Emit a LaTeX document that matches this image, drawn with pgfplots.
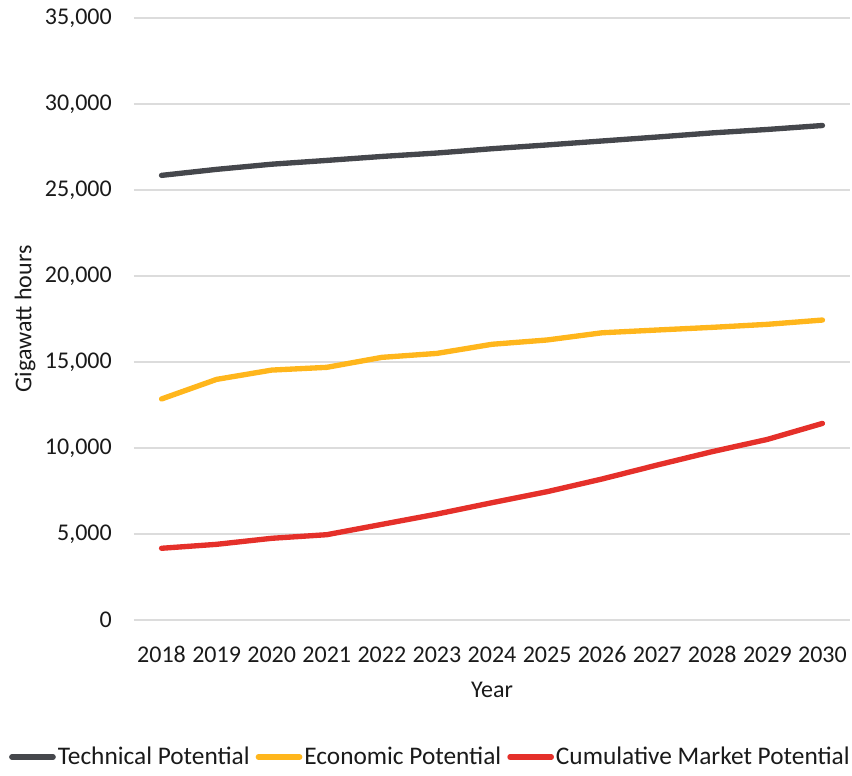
\documentclass[border=0pt]{standalone}
\usepackage{pgfplots}
\pgfplotsset{compat=1.18}
\usepackage{fontspec}
\setmainfont{Carlito}
\definecolor{tech}{HTML}{45474C}
\definecolor{econ}{HTML}{FFB61C}
\definecolor{cum}{HTML}{E5302A}
\definecolor{gridc}{HTML}{DCDCDC}
\definecolor{txt}{HTML}{1A1A1A}
\begin{document}
\begin{tikzpicture}
\begin{axis}[
  name=ax,
  scale only axis,
  width=537pt, height=451.5pt,
  xmin=-0.5, xmax=12.5,
  ymin=0, ymax=35000,
  xtick={0,...,12},
  xticklabels={2018,2019,2020,2021,2022,2023,2024,2025,2026,2027,2028,2029,2030},
  ytick={0,5000,...,35000},
  axis line style={draw=none},
  tick style={draw=none},
  ymajorgrids, xmajorgrids=false,
  major grid style={draw=gridc, line width=1.4pt},
  scaled y ticks=false,
  /pgf/number format/.cd, 1000 sep={,}, assume math mode=true,
  /pgfplots/.cd,
  ticklabel style={font=\fontsize{18}{20}\selectfont, text=txt, inner sep=0pt},
  yticklabel style={anchor=east, xshift=-16.5pt},
  xticklabel style={anchor=center, yshift=-26pt},
  xlabel={Year},
  ylabel={Gigawatt hours},
  label style={font=\fontsize{18}{20}\selectfont, text=txt, inner sep=0pt},
  xlabel style={at={(axis description cs:0.5,-0.1163)}, anchor=center},
  ylabel style={at={(axis description cs:-0.1522,0.5)}, anchor=center},
  legend style={draw=none, at={(axis description cs:0.413,-0.2276)}, anchor=center,
    font=\fontsize{19}{21}\selectfont, text=txt, legend columns=3,
    nodes={inner sep=0.5pt},
    /tikz/every odd column/.append style={column sep=1pt},
    /tikz/every even column/.append style={column sep=4pt},
    legend cell align=left, inner sep=0pt},
  legend image code/.code={\draw[#1, line width=4pt] (0pt,0pt) -- (31pt,0pt);},
  every axis plot/.append style={line width=4pt, line cap=round, line join=round},
]
\addplot[tech] coordinates {(0,25850) (1,26200) (2,26500) (3,26720) (4,26950) (5,27150) (6,27400) (7,27620) (8,27850) (9,28080) (10,28320) (11,28520) (12,28750)};
\addlegendentry{Technical Potential}
\addplot[econ] coordinates {(0,12850) (1,13990) (2,14530) (3,14690) (4,15270) (5,15500) (6,16030) (7,16280) (8,16700) (9,16860) (10,17015) (11,17190) (12,17440)};
\addlegendentry{Economic Potential}
\addplot[cum] coordinates {(0,4170) (1,4400) (2,4750) (3,4960) (4,5560) (5,6160) (6,6820) (7,7460) (8,8200) (9,9010) (10,9790) (11,10500) (12,11430)};
\addlegendentry{Cumulative Market Potential}
\end{axis}
\pgfresetboundingbox
\useasboundingbox ([xshift=-100.5pt,yshift=-116.25pt]ax.south west) rectangle ([xshift=1.5pt,yshift=13.5pt]ax.north east);
\end{tikzpicture}
\end{document}
